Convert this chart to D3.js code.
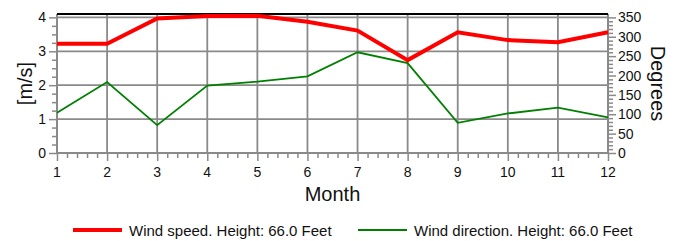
<!DOCTYPE html>
<html>
<head>
<meta charset="utf-8">
<script src="https://cdn.jsdelivr.net/npm/d3@7"></script>
<style>
  body { margin: 0; background: #fff; }
  text { font-family: "Liberation Sans", Arial, sans-serif; fill: #111; }
</style>
</head>
<body>
<div id="chart"></div>
<script>
var months = [1, 2, 3, 4, 5, 6, 7, 8, 9, 10, 11, 12];
var windSpeed = [3.22, 3.22, 3.97, 4.04, 4.05, 3.87, 3.61, 2.74, 3.56, 3.33, 3.27, 3.56];
var windDir = [104, 183, 72, 174, 184, 198, 260, 232, 78, 102, 117, 92];
var speedTicks = [0, 1, 2, 3, 4];
var dirTicks = [0, 50, 100, 150, 200, 250, 300, 350];
var legendLabels = ['Wind speed. Height: 66.0 Feet', 'Wind direction. Height: 66.0 Feet'];

(function(){
  var width = 678, height = 241;
  var left = 57, right = 608, top = 14, bottom = 153;

  var svg = d3.select('#chart').append('svg')
    .attr('width', width).attr('height', height);

  var x = d3.scaleLinear().domain([1, 12]).range([left, right]);
  var yL = d3.scaleLinear().domain([0, 4.1]).range([bottom, top]);
  var yR = d3.scaleLinear().domain([0, 4.1 * 87.5]).range([bottom, top]);

  var grid = '#8a8a8a';

  // grid
  svg.append('g').selectAll('line').data(months).enter().append('line')
    .attr('x1', d => x(d)).attr('x2', d => x(d))
    .attr('y1', top).attr('y2', bottom)
    .attr('stroke', grid).attr('stroke-width', 1.8);
  svg.append('g').selectAll('line').data(speedTicks).enter().append('line')
    .attr('x1', left).attr('x2', right)
    .attr('y1', d => yL(d)).attr('y2', d => yL(d))
    .attr('stroke', grid).attr('stroke-width', 1.8);

  // axes
  var minorX = d3.range(1, 12.001, 0.2);
  var ax = svg.append('g').attr('transform', 'translate(0,' + bottom + ')');
  ax.call(d3.axisBottom(x).tickValues(minorX).tickSize(5).tickFormat(''));
  ax.call(g => g.selectAll('.tick').filter(d => Math.abs(d - Math.round(d)) < 1e-6).select('line').attr('y2', 8));
  ax.selectAll('.domain').remove();
  ax.selectAll('line').attr('stroke', grid).attr('stroke-width', 1.5);
  ax.selectAll('.lbl').data(months).enter().append('text')
    .attr('x', d => x(d)).attr('y', 24).attr('text-anchor', 'middle')
    .style('font-size', '14px').text(d => d);

  var minorL = d3.range(0, 4.001, 0.25);
  var al = svg.append('g').attr('transform', 'translate(' + left + ',0)');
  al.call(d3.axisLeft(yL).tickValues(minorL).tickSize(5).tickFormat(''));
  al.selectAll('.tick').filter(d => Math.abs(d - Math.round(d)) < 1e-6).select('line').attr('x2', -8);
  al.selectAll('.domain').remove();
  al.selectAll('line').attr('stroke', grid).attr('stroke-width', 1.5);
  al.selectAll('.lbl').data(speedTicks).enter().append('text')
    .attr('x', -11).attr('y', d => yL(d) + 5).attr('text-anchor', 'end')
    .style('font-size', '14px').text(d => d);

  var minorR = d3.range(0, 350.001, 10);
  var ar = svg.append('g').attr('transform', 'translate(' + right + ',0)');
  ar.call(d3.axisRight(yR).tickValues(minorR).tickSize(5).tickFormat(''));
  ar.selectAll('.tick').filter(d => d % 50 === 0).select('line').attr('x2', 8);
  ar.selectAll('.domain').remove();
  ar.selectAll('line').attr('stroke', grid).attr('stroke-width', 1.5);
  ar.selectAll('.lbl').data(dirTicks).enter().append('text')
    .attr('x', 10).attr('y', d => yR(d) + 5).attr('text-anchor', 'start')
    .style('font-size', '14px').text(d => d);

  // frame
  svg.append('line').attr('x1', left).attr('x2', left).attr('y1', top).attr('y2', bottom)
    .attr('stroke', grid).attr('stroke-width', 2);
  svg.append('line').attr('x1', right).attr('x2', right).attr('y1', top).attr('y2', bottom)
    .attr('stroke', grid).attr('stroke-width', 2);
  svg.append('line').attr('x1', left).attr('x2', right).attr('y1', bottom).attr('y2', bottom)
    .attr('stroke', grid).attr('stroke-width', 2);
  svg.append('line').attr('x1', left).attr('x2', right).attr('y1', top).attr('y2', top)
    .attr('stroke', '#000').attr('stroke-width', 2);

  // series
  var lineL = d3.line().x((d, i) => x(months[i])).y(d => yL(d));
  var lineR = d3.line().x((d, i) => x(months[i])).y(d => yR(d));
  svg.append('path').datum(windDir).attr('d', lineR)
    .attr('fill', 'none').attr('stroke', '#008000').attr('stroke-width', 1.8);
  svg.append('path').datum(windSpeed).attr('d', lineL)
    .attr('fill', 'none').attr('stroke', '#ff0000').attr('stroke-width', 4);

  // titles
  svg.append('text').attr('transform', 'translate(32,' + ((top + bottom) / 2) + ') rotate(-90)')
    .attr('text-anchor', 'middle').style('font-size', '20px').text('[m/s]');
  svg.append('text').attr('transform', 'translate(651,' + ((top + bottom) / 2) + ') rotate(90)')
    .attr('text-anchor', 'middle').style('font-size', '20px').text('Degrees');
  svg.append('text').attr('x', (left + right) / 2).attr('y', 201)
    .attr('text-anchor', 'middle').style('font-size', '20px').text('Month');

  // legend
  var colors = ['#ff0000', '#008000'], widths = [4, 1.8], lx = [73, 358];
  var lg = svg.append('g').selectAll('g').data(legendLabels).enter().append('g')
    .attr('transform', (d, i) => 'translate(' + lx[i] + ',230)');
  lg.append('line').attr('x1', 0).attr('x2', 49).attr('y1', 0).attr('y2', 0)
    .attr('stroke', (d, i) => colors[i]).attr('stroke-width', (d, i) => widths[i]);
  lg.append('text').attr('x', 56).attr('y', 5.5).style('font-size', '15px').text(d => d);
})();
</script>
</body>
</html>
